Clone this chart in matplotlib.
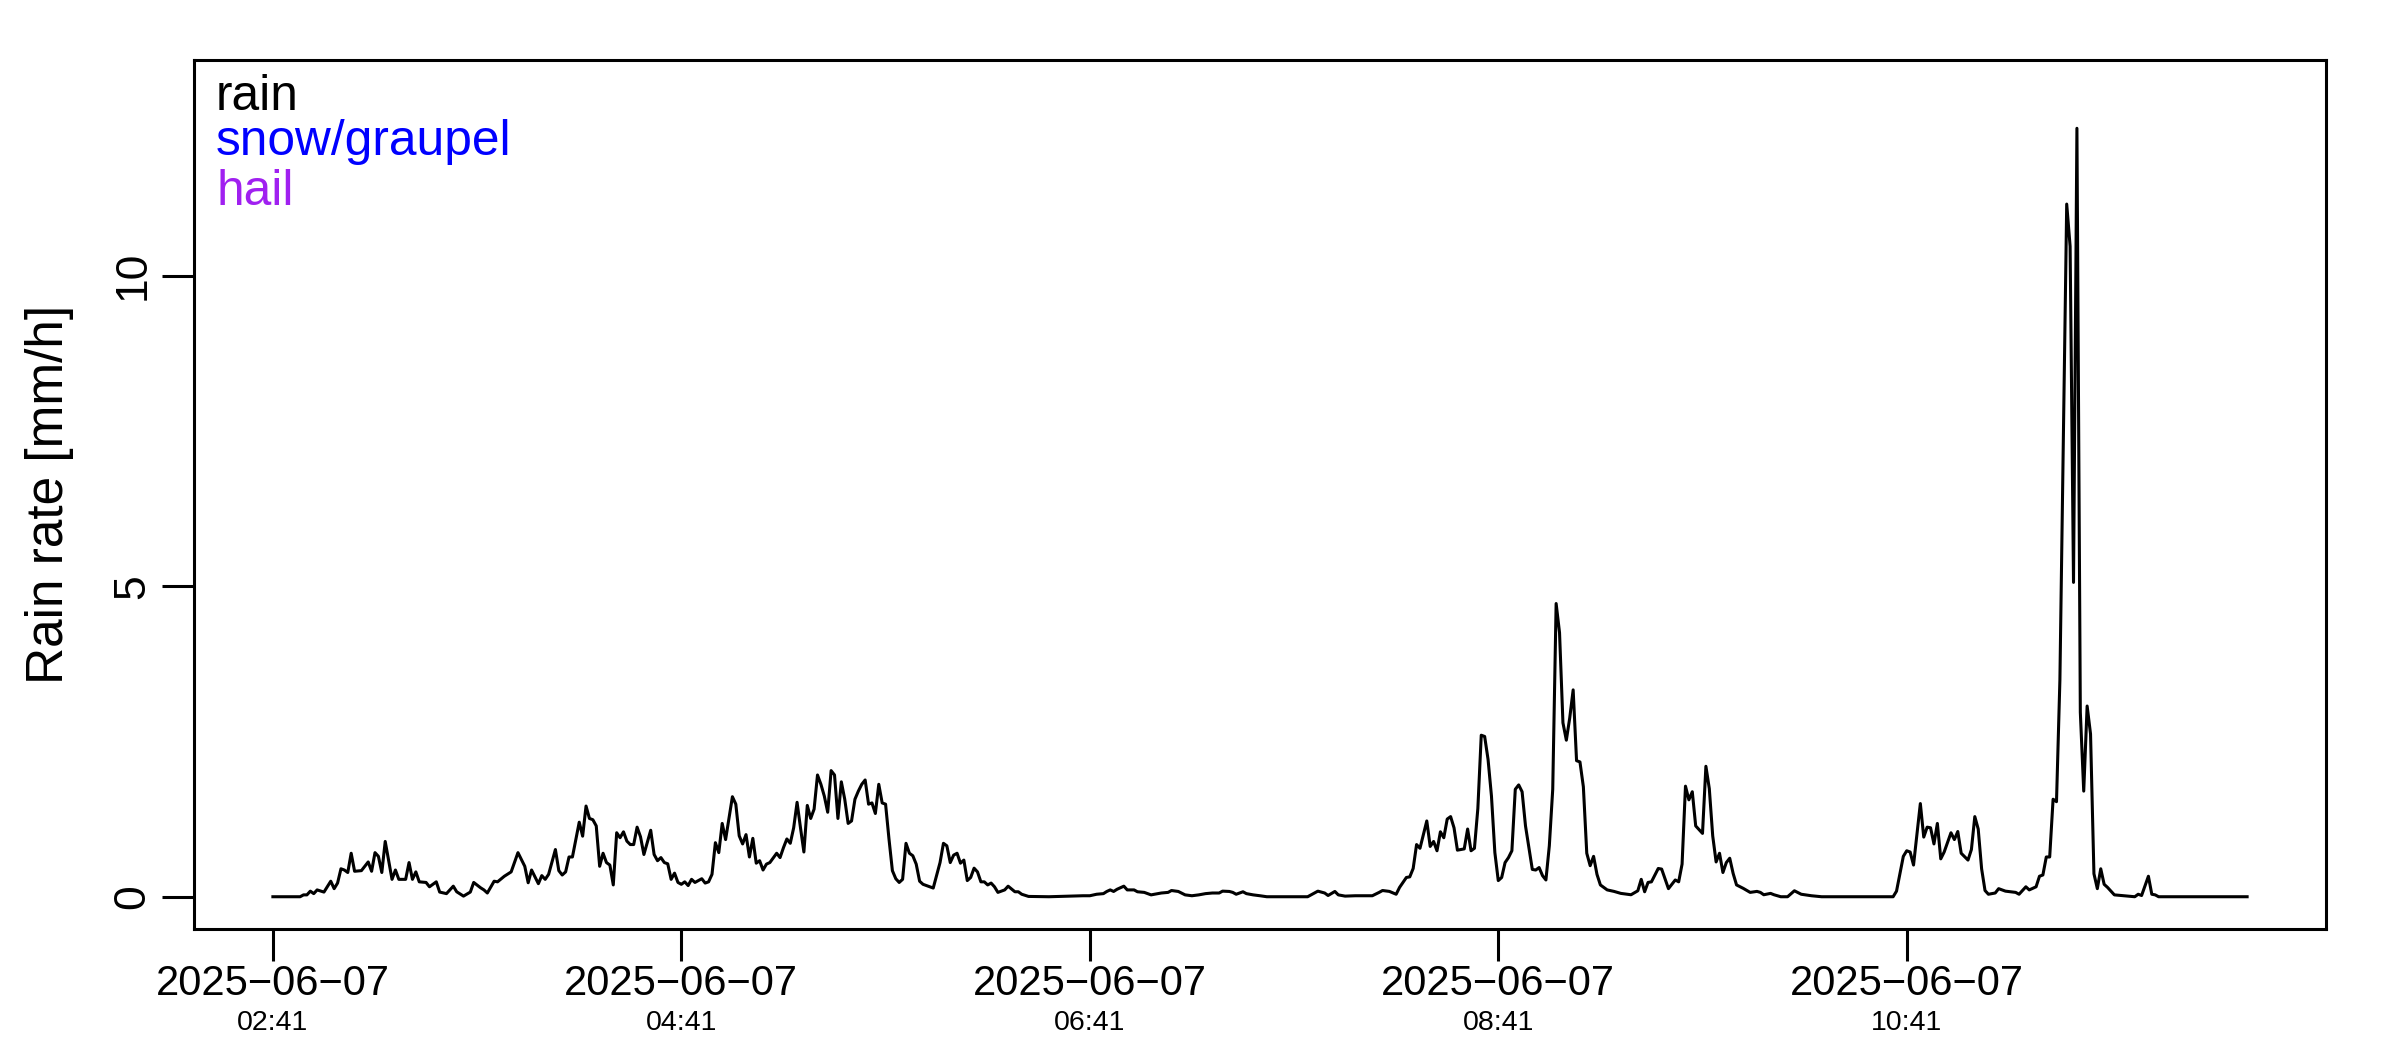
import matplotlib
matplotlib.use("Agg")
import matplotlib.pyplot as plt
from matplotlib.transforms import blended_transform_factory

plt.rcParams['font.family'] = ['Liberation Sans', 'DejaVu Sans']

# minutes after 2025-06-07 02:41
minutes = [0, 8, 9, 10, 11, 12, 13, 15, 17, 18, 19, 20, 21, 22, 23, 24, 26, 28, 29, 30,
           31, 32, 33, 35, 36, 37, 39, 40, 41, 42, 43, 45, 46, 48, 49, 51, 53, 54, 56, 58,
           59, 61, 62, 63, 65, 66, 68, 70, 72, 74, 75, 76, 78, 79, 80, 81, 83, 84, 85, 86,
           87, 88, 90, 91, 92, 93, 94, 95, 96, 97, 98, 99, 100, 101, 102, 103, 104, 105, 106, 107,
           108, 109, 111, 112, 113, 114, 115, 116, 117, 118, 119, 120, 121, 122, 123, 124, 126, 127, 128, 129,
           130, 131, 132, 133, 135, 136, 137, 138, 139, 140, 141, 142, 143, 144, 145, 146, 148, 149, 150, 151,
           152, 153, 154, 155, 156, 157, 158, 159, 160, 161, 162, 163, 164, 165, 166, 167, 168, 169, 170, 171,
           172, 173, 174, 175, 176, 177, 178, 179, 180, 181, 182, 183, 184, 185, 186, 187, 188, 189, 190, 191,
           193, 194, 196, 197, 198, 199, 200, 201, 202, 203, 204, 205, 206, 207, 208, 209, 210, 211, 212, 213,
           215, 216, 218, 219, 220, 222, 228, 238, 240, 242, 244, 245, 246, 247, 248, 250, 251, 253, 254, 256,
           258, 259, 261, 263, 264, 266, 268, 270, 272, 274, 276, 278, 279, 281, 282, 283, 285, 286, 288, 290,
           292, 304, 305, 307, 309, 310, 312, 313, 315, 318, 323, 325, 326, 328, 330, 331, 333, 334, 335, 336,
           337, 339, 340, 341, 342, 343, 344, 345, 346, 347, 348, 350, 351, 352, 353, 354, 355, 356, 357, 358,
           359, 360, 361, 362, 363, 364, 365, 366, 367, 368, 369, 370, 371, 372, 373, 374, 375, 376, 377, 378,
           379, 380, 381, 382, 383, 384, 385, 386, 387, 388, 389, 390, 392, 394, 396, 399, 401, 402, 403, 404,
           405, 407, 408, 410, 412, 413, 414, 415, 416, 417, 418, 420, 421, 422, 423, 424, 425, 426, 427, 428,
           429, 430, 432, 434, 436, 437, 438, 440, 441, 443, 445, 447, 449, 452, 455, 476, 477, 479, 480, 481,
           482, 484, 485, 486, 487, 488, 489, 490, 491, 493, 494, 495, 496, 498, 499, 500, 501, 502, 503, 504,
           506, 507, 509, 512, 513, 515, 516, 518, 519, 520, 521, 522, 523, 524, 525, 527, 528, 529, 530, 531,
           532, 533, 534, 535, 536, 537, 538, 539, 541, 547, 548, 549, 551, 552, 553, 554, 580]

rain_rate = [0, 0, 0.03, 0.03, 0.09, 0.05, 0.11, 0.075, 0.25, 0.13, 0.22, 0.45, 0.43, 0.39, 0.70, 0.41, 0.42, 0.56, 0.41, 0.71,
             0.65, 0.39, 0.89, 0.28, 0.43, 0.28, 0.28, 0.55, 0.28, 0.40, 0.24, 0.23, 0.16, 0.24, 0.075, 0.05, 0.17, 0.08, 0.01, 0.075,
             0.23, 0.145, 0.11, 0.06, 0.25, 0.24, 0.33, 0.40, 0.71, 0.49, 0.225, 0.43, 0.21, 0.34, 0.28, 0.36, 0.76, 0.42, 0.35, 0.40,
             0.64, 0.64, 1.20, 0.975, 1.46, 1.26, 1.24, 1.14, 0.49, 0.70, 0.55, 0.51, 0.19, 1.03, 0.95, 1.045, 0.895, 0.84, 0.84, 1.12,
             0.965, 0.68, 1.07, 0.68, 0.58, 0.63, 0.55, 0.53, 0.28, 0.38, 0.23, 0.20, 0.24, 0.18, 0.28, 0.23, 0.29, 0.22, 0.24, 0.36,
             0.87, 0.71, 1.18, 0.92, 1.61, 1.49, 0.98, 0.85, 1.00, 0.64, 0.94, 0.54, 0.58, 0.43, 0.525, 0.55, 0.70, 0.63, 0.79, 0.93,
             0.86, 1.11, 1.52, 1.11, 0.72, 1.47, 1.26, 1.41, 1.96, 1.81, 1.62, 1.36, 2.03, 1.96, 1.26, 1.85, 1.57, 1.18, 1.22, 1.57,
             1.70, 1.81, 1.88, 1.49, 1.51, 1.34, 1.81, 1.51, 1.49, 0.93, 0.42, 0.29, 0.23, 0.28, 0.86, 0.70, 0.66, 0.525, 0.25, 0.20,
             0.16, 0.14, 0.55, 0.86, 0.82, 0.55, 0.67, 0.70, 0.54, 0.59, 0.26, 0.31, 0.46, 0.40, 0.24, 0.24, 0.19, 0.22, 0.16, 0.07,
             0.11, 0.17, 0.08, 0.08, 0.04, 0.005, 0, 0.016, 0.016, 0.04, 0.05, 0.085, 0.11, 0.085, 0.12, 0.17, 0.11, 0.11, 0.08, 0.07,
             0.03, 0.04, 0.06, 0.07, 0.10, 0.085, 0.03, 0.016, 0.03, 0.05, 0.06, 0.06, 0.09, 0.085, 0.07, 0.04, 0.08, 0.05, 0.03, 0.016,
             0, 0, 0.03, 0.09, 0.06, 0.02, 0.085, 0.03, 0.01, 0.016, 0.016, 0.07, 0.10, 0.086, 0.04, 0.15, 0.31, 0.32, 0.455, 0.84,
             0.78, 1.22, 0.81, 0.89, 0.74, 1.045, 0.95, 1.25, 1.29, 1.11, 0.75, 0.77, 1.09, 0.74, 0.78, 1.42, 2.60, 2.58, 2.21, 1.62,
             0.71, 0.26, 0.31, 0.55, 0.63, 0.74, 1.73, 1.80, 1.69, 1.14, 0.79, 0.44, 0.43, 0.47, 0.34, 0.27, 0.82, 1.73, 4.72, 4.25,
             2.80, 2.52, 2.88, 3.33, 2.19, 2.17, 1.77, 0.70, 0.50, 0.65, 0.36, 0.19, 0.11, 0.086, 0.054, 0.032, 0.096, 0.28, 0.08, 0.23,
             0.24, 0.455, 0.445, 0.13, 0.27, 0.24, 0.525, 1.78, 1.56, 1.69, 1.14, 1.02, 2.10, 1.74, 0.98, 0.56, 0.70, 0.39, 0.55, 0.62,
             0.375, 0.19, 0.134, 0.07, 0.086, 0.07, 0.032, 0.054, 0.032, 0, 0, 0.096, 0.04, 0.016, 0, 0, 0.09, 0.65, 0.74, 0.72,
             0.51, 1.50, 0.96, 1.12, 1.11, 0.85, 1.18, 0.61, 0.72, 1.03, 0.92, 1.05, 0.70, 0.59, 0.76, 1.29, 1.09, 0.45, 0.10, 0.04,
             0.06, 0.13, 0.09, 0.07, 0.04, 0.16, 0.11, 0.16, 0.33, 0.35, 0.64, 0.64, 1.57, 1.53, 3.49, 11.15, 10.47, 5.06, 12.37, 2.97,
             1.70, 3.07, 2.62, 0.37, 0.13, 0.45, 0.20, 0.15, 0.03, 0, 0.04, 0.02, 0.33, 0.04, 0.03, 0, 0]

tick_minutes = [0, 120, 240, 360, 480]
tick_dates = ["2025\u221206\u221207"] * 5
tick_times = ["02:41", "04:41", "06:41", "08:41", "10:41"]

legend_labels = ["rain", "snow/graupel", "hail"]
legend_colors = ["black", "#0000FF", "#A020F0"]

fig = plt.figure(figsize=(24, 10.5), dpi=100)
ax = fig.add_axes([0.0808, 0.1152, 0.8884, 0.8277])

ax.plot(minutes, rain_rate, color="black", lw=2.2, solid_joinstyle="round")

ax.set_xlim(-23.2, 603.2)
ax.set_ylim(-0.52, 13.47)

for s in ax.spines.values():
    s.set_linewidth(2.2)

ax.set_yticks([0, 5, 10])
ax.set_yticklabels(["0", "5", "10"], rotation=90, va="center")
ax.tick_params(axis="y", length=23, width=2.2, labelsize=32, pad=6, direction="out")

ax.set_xticks(tick_minutes)
ax.set_xticklabels(tick_dates)
ax.tick_params(axis="x", length=23, width=2.2, labelsize=30, pad=2, direction="out")

trans = blended_transform_factory(ax.transData, ax.transAxes)
for m, t in zip(tick_minutes, tick_times):
    ax.annotate(t, xy=(m, 0), xycoords=trans, xytext=(0, -58), textcoords="offset points",
                ha="center", va="top", fontsize=20.5)

ax.set_ylabel("Rain rate [mm/h]", fontsize=37, va="baseline")
ax.yaxis.set_label_coords(-0.0614, 0.5)

legend_y = [0.8952, 0.8524, 0.8048]
for lab, col, yy in zip(legend_labels, legend_colors, legend_y):
    fig.text(0.09, yy, lab, color=col, fontsize=35.7, va="baseline", ha="left")

fig.savefig("out.png", dpi=100)
